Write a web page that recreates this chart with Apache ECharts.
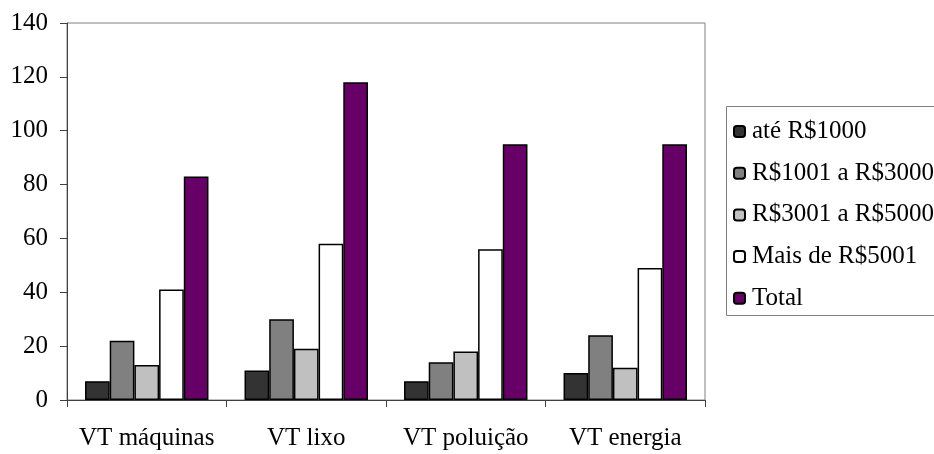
<!DOCTYPE html>
<html>
<head>
<meta charset="utf-8">
<script src="https://cdn.jsdelivr.net/npm/echarts@6/dist/echarts.min.js"></script>
<style>
html,body{margin:0;padding:0;background:#fff;}
#c{width:934px;height:454px;}
</style>
</head>
<body>
<div id="c"></div>
<script>
var categories = ['VT máquinas', 'VT lixo', 'VT poluição', 'VT energia'];
var seriesNames = ['até R$1000', 'R$1001 a R$3000', 'R$3001 a R$5000', 'Mais de R$5001', 'Total'];
var ate1000 = [7, 11, 7, 10];
var r1001a3000 = [22, 30, 14, 24];
var r3001a5000 = [13, 19, 18, 12];
var maisDe5001 = [41, 58, 56, 49];
var total = [83, 118, 95, 95];
var yTicks = [0, 20, 40, 60, 80, 100, 120, 140];

var colors = ['#333333', '#808080', '#C0C0C0', '#FFFFFF', '#660066'];
var values = [ate1000, r1001a3000, r3001a5000, maisDe5001, total];
var font = "Liberation Serif, Tinos, DejaVu Serif, serif";

var chart = echarts.init(document.getElementById('c'), null, {renderer: 'canvas'});
var series = seriesNames.map(function (n, i) {
  return {
    name: n,
    type: 'bar',
    data: values[i],
    barGap: '0%',
    barCategoryGap: '22.6%',
    itemStyle: {color: colors[i], borderColor: '#000', borderWidth: 1.5},
    emphasis: {disabled: true},
    animation: false
  };
});

chart.setOption({
  animation: false,
  textStyle: {fontFamily: font},
  grid: {left: 67, top: 23, right: 229, bottom: 54, show: true, borderColor: '#808080', borderWidth: 1, containLabel: false},
  graphic: [{
    type: 'rect',
    shape: {x: 726.5, y: 106.5, width: 260, height: 209},
    style: {fill: 'none', stroke: '#808080', lineWidth: 1},
    silent: true,
    z: 0
  }],
  legend: {
    orient: 'vertical',
    left: 727,
    top: 107,
    padding: [12, 6, 4, 6],
    itemGap: 16.7,
    itemWidth: 11,
    itemHeight: 11,
    borderWidth: 0,
    textStyle: {fontFamily: font, fontSize: 25, color: '#000', padding: [0, 0, 0, 2]},
    data: seriesNames
  },
  xAxis: {
    type: 'category',
    data: categories,
    axisLine: {lineStyle: {color: '#404040', width: 1}},
    axisTick: {show: true, length: 7, alignWithLabel: false, lineStyle: {color: '#404040'}},
    axisLabel: {color: '#000', fontFamily: font, fontSize: 25, margin: 26, interval: 0}
  },
  yAxis: {
    type: 'value',
    min: yTicks[0],
    max: yTicks[yTicks.length - 1],
    interval: 20,
    splitLine: {show: false},
    axisLine: {show: true, lineStyle: {color: '#404040', width: 1}},
    axisTick: {show: true, length: 7, lineStyle: {color: '#404040'}},
    axisLabel: {color: '#000', fontFamily: font, fontSize: 25, margin: 19}
  },
  series: series
});
</script>
</body>
</html>
